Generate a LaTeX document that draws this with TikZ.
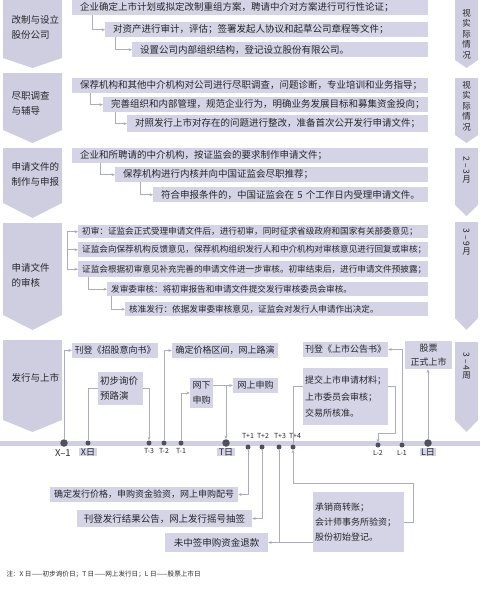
\documentclass[tikz,border=0pt]{standalone}
\usepackage{fontspec}
\usepackage{graphicx}
\setmainfont{Noto Sans CJK SC}
\usetikzlibrary{arrows.meta,calc}

\definecolor{boxfill}{RGB}{212,212,230}
\definecolor{chevfill}{RGB}{206,206,224}
\definecolor{barfill}{RGB}{208,208,226}
\definecolor{linecol}{RGB}{172,172,190}
\definecolor{txt}{RGB}{38,38,44}
\definecolor{dotcol}{RGB}{80,80,96}

\begin{document}
\begin{tikzpicture}[
    x=1pt, y=-1pt,
    >={Stealth[length=3.5pt,width=3pt]},
    font=\fontsize{9}{11}\selectfont,
    text=txt,
    rowbox/.style={fill=boxfill, anchor=north west, inner xsep=8pt, inner ysep=0pt, minimum height=15pt, align=left, font=\fontsize{9.5}{11}\selectfont},
    auditrow/.style={rowbox, inner xsep=4pt, font=\fontsize{8.6}{10}\selectfont},
    tbox/.style={fill=boxfill, inner xsep=2pt, inner ysep=0pt, align=center},
    stage/.style={anchor=west, align=left, font=\fontsize{9.5}{15}\selectfont},
    sidenote/.style={align=center, font=\fontsize{8.5}{10.5}\selectfont},
    chev/.style={fill=chevfill},
    conn/.style={->, draw=linecol, line width=0.6pt},
    wire/.style={draw=linecol, line width=0.6pt},
    daydot/.style={circle, fill=dotcol, inner sep=0pt, minimum size=5pt},
    bigdot/.style={circle, fill=dotcol, inner sep=0pt, minimum size=7.5pt},
    daylbl/.style={inner sep=0pt, font=\fontsize{7}{8}\selectfont},
    daytag/.style={fill=boxfill, inner xsep=1.5pt, inner ysep=0.5pt, font=\fontsize{9}{10}\selectfont}
]
\useasboundingbox (0,0) rectangle (480,603);

% Stage arrows, left and right
\fill[chev] (3,0) -- (62,0) -- (62,58) -- (32.5,68) -- (3,58) -- cycle;
\fill[chev] (3,73) -- (62,73) -- (62,130) -- (32.5,143) -- (3,130) -- cycle;
\fill[chev] (3,148) -- (62,148) -- (62,203) -- (32.5,218) -- (3,203) -- cycle;
\fill[chev] (3,223) -- (62,223) -- (62,315) -- (32.5,330) -- (3,315) -- cycle;
\fill[chev] (3,340) -- (62,340) -- (62,420) -- (32.5,432) -- (3,420) -- cycle;

\fill[chev] (455,0) -- (478,0) -- (478,60) -- (466.5,68) -- (455,60) -- cycle;
\fill[chev] (455,78) -- (478,78) -- (478,135) -- (466.5,143) -- (455,135) -- cycle;
\fill[chev] (455,148) -- (478,148) -- (478,205) -- (466.5,216) -- (455,205) -- cycle;
\fill[chev] (455,222) -- (478,222) -- (478,318) -- (466.5,330) -- (455,318) -- cycle;
\fill[chev] (455,342) -- (478,342) -- (478,420) -- (466.5,432) -- (455,420) -- cycle;

\node[stage] (l1) at (8,27.5) {改制与设立\\股份公司};
\node[stage] (l2) at (8,103.5) {尽职调查\\与辅导};
\node[stage] (l3) at (8,174.5) {申请文件的\\制作与申报};
\node[stage] (l4) at (8,275) {申请文件\\的审核};
\node[stage] (l5) at (8,378) {发行与上市};

\node[sidenote] (n1) at (466.5,34) {视\\实\\际\\情\\况};
\node[sidenote] (n2) at (466.5,106) {视\\实\\际\\情\\况};
\node[sidenote] (n3) at (466.5,170) {\rotatebox{-90}{2 – 3}\\月};
\node[sidenote] (n4) at (466.5,242) {\rotatebox{-90}{3 – 9}\\月};
\node[sidenote] (n5) at (466.5,366) {\rotatebox{-90}{3 – 4}\\周};

% Stage 1
\node[rowbox, text width=340pt] (s1a) at (72,0) {企业确定上市计划或拟定改制重组方案，聘请中介对方案进行可行性论证；};
\node[rowbox, text width=307pt] (s1b) at (105,22) {对资产进行审计，评估；签署发起人协议和起草公司章程等文件；};
\node[rowbox, text width=280pt] (s1c) at (132,42) {设置公司内部组织结构，登记设立股份有限公司。};

\draw[conn] (s1a.south west) ++(20,0) |- (s1b.west);
\draw[conn] (s1b.south west) ++(10,0) |- (s1c.west);

% Stage 2
\node[rowbox, text width=340pt] (s2a) at (72,78) {保荐机构和其他中介机构对公司进行尽职调查，问题诊断，专业培训和业务指导；};
\node[rowbox, text width=309pt] (s2b) at (103,97) {完善组织和内部管理，规范企业行为，明确业务发展目标和募集资金投向；};
\node[rowbox, text width=285pt, minimum height=17pt] (s2c) at (127,115) {对照发行上市对存在的问题进行整改，准备首次公开发行申请文件；};

\draw[conn] (s2a.south west) ++(18,0) |- (s2b.west);
\draw[conn] (s2b.south west) ++(12,0) |- (s2c.west);

% Stage 3
\node[rowbox, text width=340pt] (s3a) at (72,148) {企业和所聘请的中介机构，按证监会的要求制作申请文件；};
\node[rowbox, text width=297pt] (s3b) at (115,167) {保荐机构进行内核并向中国证监会尽职推荐；};
\node[rowbox, text width=259pt] (s3c) at (153,187) {符合申报条件的，中国证监会在 5 个工作日内受理申请文件。};

\draw[conn] (s3a.south west) ++(28,0) |- (s3b.west);
\draw[conn] (s3b.south west) ++(25,0) |- (s3c.west);

% Stage 4
\node[auditrow, text width=342pt, minimum height=13pt] (r1) at (78,225) {初审：证监会正式受理申请文件后，进行初审，同时征求省级政府和国家有关部委意见；};
\node[auditrow, text width=342pt] (r2) at (78,242) {证监会向保荐机构反馈意见，保荐机构组织发行人和中介机构对审核意见进行回复或审核；};
\node[auditrow, text width=342pt, minimum height=16pt] (r3) at (78,261) {证监会根据初审意见补充完善的申请文件进一步审核。初审结束后，进行申请文件预披露；};
\node[auditrow, text width=313pt, minimum height=14pt] (r4) at (107,282) {发审委审核：将初审报告和申请文件提交发行审核委员会审核。};
\node[auditrow, text width=295pt, minimum height=14pt] (r5) at (125,302) {核准发行：依据发审委审核意见，证监会对发行人申请作出决定。};

\coordinate (brk) at ($(r1.west)+(-11,0)$);
\draw[conn] (brk) -- (r1.west);
\draw[conn] (brk) |- (r2.west);
\draw[conn] (brk) |- (r3.west);
\draw[conn] (r3.south west) ++(10,0) |- (r4.west);
\draw[conn] (r4.south west) ++(4,0) |- (r5.west);

% Stage 5: time line
\fill[barfill] (0,441) rectangle (480,446);

\node[bigdot] (dX1) at (64,443) {};
\node[daydot] (dX) at (88,443) {};
\node[daydot] (dT3) at (149,443) {};
\node[daydot] (dT2) at (164,443) {};
\node[daydot] (dT1) at (181,443) {};
\node[bigdot] (dT) at (226,443) {};
\node[daydot] (dT1p) at (248,447) {};
\node[daydot] (dT2p) at (262,447) {};
\node[daydot] (dT3p) at (279,447) {};
\node[daydot] (dT4p) at (293,447) {};
\node[daydot] (dL2) at (378,445) {};
\node[daydot] (dL1) at (402,445) {};
\node[bigdot] (dL) at (428,443) {};

\node[font=\fontsize{9.5}{10}\selectfont] (tX1) at (63,453) {X–1};
\node[daytag] (tX) at (88,452) {X日};
\node[daylbl] (tT3) at (149,451) {T-3};
\node[daylbl] (tT2) at (164,451) {T-2};
\node[daylbl] (tT1) at (181,451) {T-1};
\node[daytag] (tT) at (226,452) {T日};
\node[daylbl] (tT1p) at (248,436) {T+1};
\node[daylbl] (tT2p) at (263,436) {T+2};
\node[daylbl] (tT3p) at (280,436) {T+3};
\node[daylbl] (tT4p) at (295,436) {T+4};
\node[daylbl] (tL2) at (378,453) {L-2};
\node[daylbl] (tL1) at (402,453) {L-1};
\node[daytag] (tL) at (428,452) {L日};

% Boxes above the time line
\node[tbox, minimum width=86pt, minimum height=15pt] (zgs) at (115,350.5) {刊登《招股意向书》};
\node[tbox, anchor=north west, text width=41pt, align=left, minimum height=33pt, font=\fontsize{9.5}{15}\selectfont] (xj) at (98,372) {初步询价\\预路演};
\node[tbox, minimum width=106pt, minimum height=15pt] (qj) at (225,350.5) {确定价格区间，网上路演};
\node[tbox, minimum width=23pt, minimum height=30pt, font=\fontsize{9}{15}\selectfont] (wx) at (201.5,393) {网下\\申购};
\node[tbox, minimum width=45pt, minimum height=15pt] (ws) at (255.5,385.5) {网上申购};
\node[tbox, minimum width=85pt, minimum height=15pt] (ss) at (345.5,349.5) {刊登《上市公告书》};
\node[tbox, anchor=north west, text width=81pt, align=left, minimum height=57pt, font=\fontsize{9}{16.5}\selectfont] (tj) at (303,368) {提交上市申请材料；\\上市委员会审核；\\交易所核准。};
\node[tbox, minimum width=47pt, minimum height=28pt, font=\fontsize{9}{14}\selectfont] (gp) at (428.5,355) {股票\\正式上市};

% Boxes below the time line
\node[tbox, minimum width=188pt, minimum height=15pt] (fj) at (144,494.5) {确定发行价格，申购资金验资，网上申购配号};
\node[tbox, minimum width=175pt, minimum height=17pt, font=\fontsize{9.5}{11}\selectfont] (jg) at (164.5,518.5) {刊登发行结果公告，网上发行摇号抽签};
\node[tbox, minimum width=103pt, minimum height=19pt, font=\fontsize{9.5}{11}\selectfont] (tk) at (216.5,542.5) {未中签申购资金退款};
\node[tbox, anchor=north west, text width=87pt, align=left, minimum height=60pt, font=\fontsize{9}{15}\selectfont] (cx) at (313,492) {承销商转账；\\会计师事务所验资；\\股份初始登记。};

% Connectors of the time line
\draw[conn] (dX1) |- (zgs.west);
\draw[wire] (dX) |- (xj.west);
\draw[conn] (xj.east) -| (dT3);
\draw[conn] (dT2) |- (qj.west);
\draw[conn] (dT1) |- (wx.west);
\draw[conn] (wx.east |- ws.west) -- (ws.west);
\draw[conn] (dT |- ws.west) -- (dT);

\draw[conn] (dT1p) |- (fj.east);
\draw[conn] (dT2p) |- (jg.east);
\draw[conn] (dT3p) |- (tk.east);
\draw[wire] (tk.east -| dT3p) -- (tk.east -| cx.west);
\draw[conn] (cx.east) -- ++(9,0) |- ($(dT4p)+(0,36)$) -- (dT4p);

\draw[wire] (dT4p) |- ($(tj.north west)+(0,18)$);
\draw[conn] ($(tj.north east)+(0,18)$) -- ++(7,0) |- ($(dL2)+(0,-12)$) -- (dL2);
\draw[conn] (dL1) |- (ss.east);
\draw[conn] (dL) -- (dL |- gp.south);

\node[anchor=west, font=\fontsize{6.6}{8}\selectfont] (note) at (3,574) {注：X 日——初步询价日；T 日——网上发行日；L 日——股票上市日};

\end{tikzpicture}
\end{document}
